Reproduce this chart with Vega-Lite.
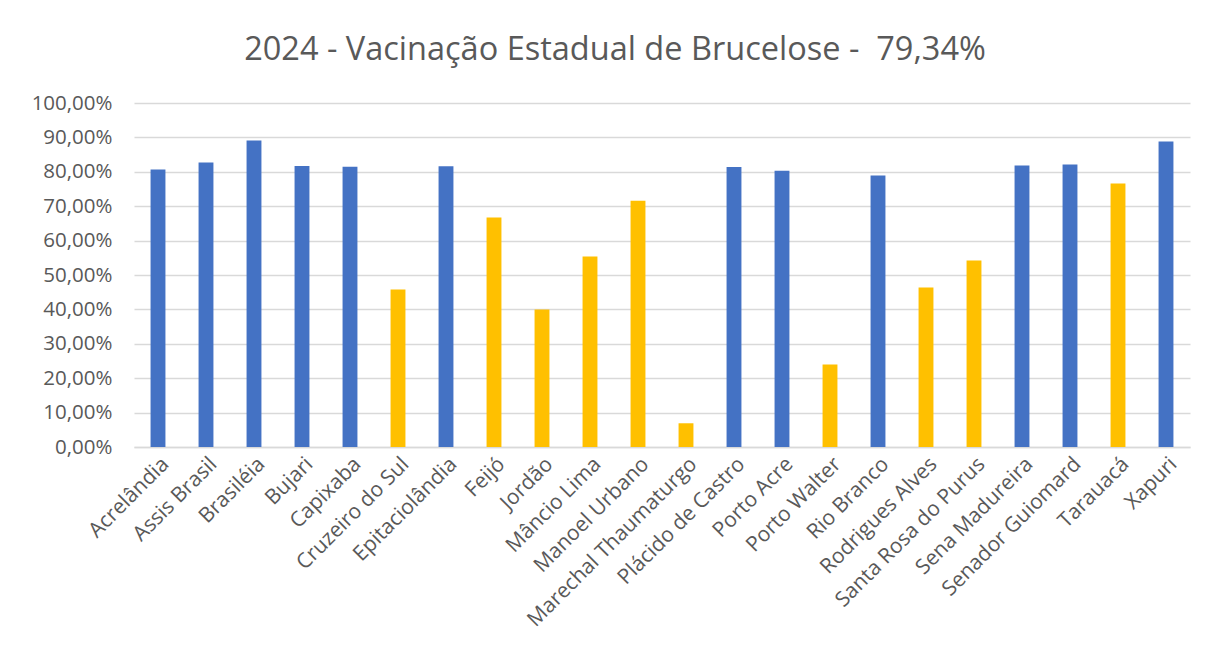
{
  "$schema": "https://vega.github.io/schema/vega-lite/v6.json",
  "width": 1056,
  "height": 344,
  "autosize": {"type": "none"},
  "padding": {"left": 134, "top": 103, "right": 39, "bottom": 216},
  "background": "white",
  "title": {
    "text": "2024 - Vacinação Estadual de Brucelose - \u00a079,34%",
    "font": "Open Sans",
    "fontSize": 32.5,
    "fontWeight": "normal",
    "color": "#595959",
    "anchor": "middle",
    "dx": -47,
    "offset": 27
  },
  "data": {
    "values": [
      {"municipio": "Acrelândia", "cobertura": 0.807, "grupo": "azul"},
      {"municipio": "Assis Brasil", "cobertura": 0.827, "grupo": "azul"},
      {"municipio": "Brasiléia", "cobertura": 0.891, "grupo": "azul"},
      {"municipio": "Bujari", "cobertura": 0.817, "grupo": "azul"},
      {"municipio": "Capixaba", "cobertura": 0.815, "grupo": "azul"},
      {"municipio": "Cruzeiro do Sul", "cobertura": 0.458, "grupo": "amarelo"},
      {"municipio": "Epitaciolândia", "cobertura": 0.816, "grupo": "azul"},
      {"municipio": "Feijó", "cobertura": 0.667, "grupo": "amarelo"},
      {"municipio": "Jordão", "cobertura": 0.400, "grupo": "amarelo"},
      {"municipio": "Mâncio Lima", "cobertura": 0.554, "grupo": "amarelo"},
      {"municipio": "Manoel Urbano", "cobertura": 0.716, "grupo": "amarelo"},
      {"municipio": "Marechal Thaumaturgo", "cobertura": 0.069, "grupo": "amarelo"},
      {"municipio": "Plácido de Castro", "cobertura": 0.814, "grupo": "azul"},
      {"municipio": "Porto Acre", "cobertura": 0.803, "grupo": "azul"},
      {"municipio": "Porto Walter", "cobertura": 0.240, "grupo": "amarelo"},
      {"municipio": "Rio Branco", "cobertura": 0.789, "grupo": "azul"},
      {"municipio": "Rodrigues Alves", "cobertura": 0.464, "grupo": "amarelo"},
      {"municipio": "Santa Rosa do Purus", "cobertura": 0.542, "grupo": "amarelo"},
      {"municipio": "Sena Madureira", "cobertura": 0.818, "grupo": "azul"},
      {"municipio": "Senador Guiomard", "cobertura": 0.821, "grupo": "azul"},
      {"municipio": "Tarauacá", "cobertura": 0.766, "grupo": "amarelo"},
      {"municipio": "Xapuri", "cobertura": 0.888, "grupo": "azul"}
    ]
  },
  "mark": {"type": "bar"},
  "encoding": {
    "x": {
      "field": "municipio",
      "type": "nominal",
      "sort": null,
      "scale": {"paddingInner": 0.69, "paddingOuter": 0.345},
      "axis": {
        "title": null,
        "labelAngle": -45,
        "labelFont": "Open Sans",
        "labelFontSize": 21,
        "labelColor": "#595959",
        "labelPadding": 6,
        "labelLimit": 400,
        "ticks": false,
        "domainColor": "#d9d9d9",
        "domainWidth": 1.5,
        "labelOverlap": false
      }
    },
    "y": {
      "field": "cobertura",
      "type": "quantitative",
      "scale": {"domain": [0, 1], "nice": false},
      "axis": {
        "title": null,
        "values": [0, 0.1, 0.2, 0.3, 0.4, 0.5, 0.6, 0.7, 0.8, 0.9, 1],
        "labelExpr": "replace(format(datum.value, '.2%'), '.', ',')",
        "labelFont": "Open Sans",
        "labelFontSize": 20.5,
        "labelColor": "#595959",
        "labelPadding": 22,
        "ticks": false,
        "domain": false,
        "grid": true,
        "gridColor": "#d9d9d9",
        "gridWidth": 1.5
      }
    },
    "color": {
      "field": "grupo",
      "type": "nominal",
      "scale": {"domain": ["azul", "amarelo"], "range": ["#4472C4", "#FFC000"]},
      "legend": null
    }
  },
  "config": {
    "view": {"stroke": null}
  }
}
